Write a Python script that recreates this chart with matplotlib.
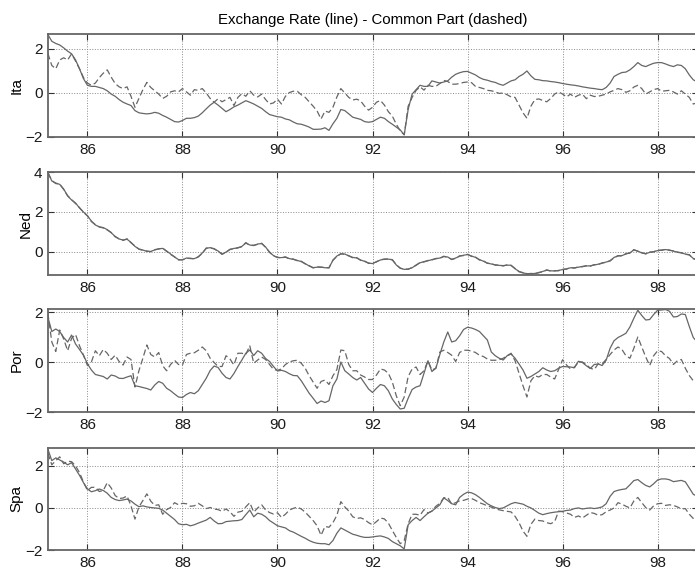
import numpy as np
import matplotlib
matplotlib.use("Agg")
import matplotlib.pyplot as plt

# monthly observations, Mar 1985 .. Nov 1998 (one row per year)
months = np.arange(165)
years = 85 + (months + 2) / 12.0

ita_rate = [
    2.66, 2.35, 2.25, 2.18, 2.05, 1.9, 1.78, 1.5, 1.1, 0.65,
    0.35, 0.3, 0.3, 0.25, 0.2, 0.1, -0.05, -0.15, -0.3, -0.42, -0.5, -0.57,
    -0.8, -0.9, -0.93, -0.95, -0.93, -0.88, -0.92, -1.02, -1.1, -1.2, -1.3, -1.32,
    -1.25, -1.15, -1.15, -1.12, -1.05, -0.9, -0.72, -0.55, -0.42, -0.55, -0.7, -0.85,
    -0.75, -0.63, -0.55, -0.45, -0.35, -0.42, -0.5, -0.6, -0.7, -0.85, -0.98, -1.03,
    -1.08, -1.1, -1.18, -1.22, -1.32, -1.4, -1.42, -1.48, -1.55, -1.65, -1.65, -1.64,
    -1.58, -1.7, -1.4, -1.15, -0.75, -0.8, -0.95, -1.1, -1.15, -1.2, -1.3, -1.33,
    -1.3, -1.2, -1.1, -1.15, -1.3, -1.42, -1.55, -1.68, -1.9, -0.75, -0.05, 0.15,
    0.35, 0.3, 0.3, 0.55, 0.5, 0.45, 0.5, 0.55, 0.72, 0.85, 0.92, 0.97,
    0.98, 0.9, 0.82, 0.7, 0.62, 0.58, 0.52, 0.48, 0.4, 0.35, 0.45, 0.55,
    0.6, 0.75, 0.85, 1.0, 0.78, 0.62, 0.6, 0.56, 0.55, 0.52, 0.5, 0.47,
    0.43, 0.4, 0.37, 0.35, 0.32, 0.28, 0.25, 0.22, 0.2, 0.17, 0.15, 0.25,
    0.45, 0.75, 0.85, 0.93, 0.95, 1.05, 1.2, 1.38, 1.25, 1.2, 1.28, 1.35,
    1.38, 1.38, 1.32, 1.25, 1.2, 1.28, 1.25, 1.1, 0.82, 0.6, 0.5,
]
ita_common = [
    1.8, 1.25, 1.1, 1.5, 1.6, 1.5, 1.78, 1.45, 1.1, 0.7,
    0.45, 0.35, 0.45, 0.7, 0.9, 1.05, 0.72, 0.43, 0.28, 0.2, 0.28, -0.15,
    -0.65, -0.25, 0.15, 0.48, 0.25, 0.1, -0.05, -0.25, -0.15, 0.05, 0.1, 0.05,
    0.2, 0.05, -0.1, 0.15, 0.12, 0.2, 0.0, -0.25, -0.42, -0.26, -0.4, -0.3,
    -0.2, -0.57, -0.2, -0.03, -0.15, 0.1, -0.1, -0.18, -0.05, -0.3, -0.5, -0.45,
    -0.28, -0.5, -0.15, 0.02, 0.08, 0.08, -0.08, -0.2, -0.4, -0.6, -0.82, -1.18,
    -0.82, -0.88, -0.65, -0.18, 0.2, 0.0, -0.2, -0.32, -0.28, -0.36, -0.6, -0.78,
    -0.65, -0.42, -0.34, -0.55, -0.85, -1.05, -1.42, -1.72, -1.9, -0.6, -0.2, 0.12,
    0.28, 0.13, 0.35, 0.3, 0.3, 0.43, 0.57, 0.52, 0.4, 0.4, 0.43, 0.48,
    0.5, 0.47, 0.3, 0.25, 0.2, 0.12, 0.1, 0.05, -0.02, 0.0, -0.08, -0.18,
    -0.2, -0.55, -0.9, -1.15, -0.6, -0.3, -0.27, -0.34, -0.4, -0.25, -0.05, 0.05,
    -0.05, -0.18, -0.05, -0.2, -0.1, -0.05, -0.26, -0.1, -0.16, -0.15, -0.1, -0.05,
    0.05, 0.12, 0.2, 0.15, 0.03, 0.1, 0.27, 0.35, 0.2, -0.05, 0.05, 0.15,
    0.2, 0.08, 0.1, 0.12, 0.05, -0.05, 0.1, -0.05, -0.2, -0.5, -0.45,
]

ned_rate = [
    4.0, 3.55, 3.45, 3.38, 3.15, 2.8, 2.6, 2.45, 2.2, 2.0,
    1.8, 1.55, 1.35, 1.26, 1.22, 1.12, 0.96, 0.78, 0.65, 0.6, 0.64, 0.48,
    0.28, 0.15, 0.1, 0.03, 0.03, 0.1, 0.16, 0.18, 0.05, -0.1, -0.25, -0.38,
    -0.4, -0.3, -0.33, -0.33, -0.25, -0.05, 0.18, 0.22, 0.15, 0.05, -0.12, 0.0,
    0.12, 0.18, 0.2, 0.28, 0.45, 0.35, 0.32, 0.4, 0.42, 0.25, -0.02, -0.18,
    -0.28, -0.28, -0.26, -0.33, -0.37, -0.42, -0.48, -0.58, -0.7, -0.78, -0.76, -0.75,
    -0.79, -0.78, -0.42, -0.2, -0.1, -0.1, -0.2, -0.27, -0.3, -0.4, -0.47, -0.55,
    -0.58, -0.48, -0.4, -0.35, -0.36, -0.38, -0.65, -0.8, -0.87, -0.85, -0.79, -0.65,
    -0.54, -0.48, -0.44, -0.38, -0.34, -0.3, -0.23, -0.25, -0.38, -0.3, -0.21, -0.16,
    -0.13, -0.2, -0.27, -0.38, -0.46, -0.55, -0.6, -0.64, -0.67, -0.68, -0.66, -0.66,
    -0.84, -0.97, -1.05, -1.08, -1.09, -1.07, -1.04, -0.97, -0.91, -0.94, -0.95, -0.92,
    -0.88, -0.84, -0.79, -0.79, -0.76, -0.72, -0.7, -0.69, -0.65, -0.61, -0.56, -0.5,
    -0.45, -0.27, -0.2, -0.18, -0.1, -0.04, 0.1, 0.05, -0.05, -0.08, -0.02, 0.02,
    0.07, 0.1, 0.12, 0.1, 0.04, 0.0, -0.05, -0.1, -0.15, -0.32, -0.4,
]
ned_common = [
    3.95, 3.58, 3.42, 3.4, 3.12, 2.82, 2.62, 2.42, 2.22, 1.98,
    1.82, 1.52, 1.37, 1.25, 1.2, 1.1, 0.98, 0.76, 0.66, 0.58, 0.66, 0.46,
    0.3, 0.14, 0.08, 0.05, 0.01, 0.12, 0.15, 0.2, 0.03, -0.12, -0.24, -0.4,
    -0.38, -0.32, -0.31, -0.35, -0.23, -0.07, 0.2, 0.2, 0.17, 0.03, -0.1, -0.02,
    0.14, 0.16, 0.22, 0.26, 0.47, 0.33, 0.34, 0.38, 0.44, 0.23, 0.0, -0.2,
    -0.26, -0.3, -0.24, -0.35, -0.35, -0.44, -0.46, -0.6, -0.68, -0.8, -0.74, -0.77,
    -0.77, -0.8, -0.4, -0.22, -0.08, -0.12, -0.18, -0.29, -0.28, -0.42, -0.45, -0.57,
    -0.56, -0.5, -0.38, -0.37, -0.34, -0.4, -0.63, -0.82, -0.85, -0.87, -0.77, -0.67,
    -0.52, -0.5, -0.42, -0.4, -0.32, -0.32, -0.21, -0.27, -0.36, -0.32, -0.19, -0.18,
    -0.11, -0.22, -0.25, -0.4, -0.44, -0.57, -0.58, -0.66, -0.65, -0.7, -0.64, -0.68,
    -0.82, -0.99, -1.03, -1.1, -1.07, -1.09, -1.02, -0.99, -0.89, -0.96, -0.93, -0.94,
    -0.86, -0.86, -0.77, -0.81, -0.74, -0.74, -0.68, -0.71, -0.63, -0.63, -0.54, -0.52,
    -0.43, -0.29, -0.18, -0.2, -0.08, -0.06, 0.12, 0.03, -0.03, -0.1, 0.0, 0.0,
    0.09, 0.08, 0.14, 0.08, 0.06, -0.02, -0.03, -0.12, -0.13, -0.34, -0.38,
]

por_rate = [
    1.8, 1.22, 1.32, 1.22, 0.98, 0.8, 1.08, 0.72, 0.5, 0.27,
    -0.07, -0.32, -0.5, -0.54, -0.58, -0.68, -0.52, -0.56, -0.65, -0.66, -0.6, -0.55,
    -0.95, -0.98, -1.02, -1.06, -1.12, -0.92, -0.78, -0.85, -1.05, -1.15, -1.28, -1.4,
    -1.42, -1.3, -1.22, -1.27, -1.15, -0.9, -0.65, -0.34, -0.16, -0.22, -0.45, -0.62,
    -0.68, -0.46, -0.18, 0.08, 0.35, 0.48, 0.26, 0.45, 0.35, 0.14, 0.02, -0.18,
    -0.36, -0.33, -0.38, -0.47, -0.54, -0.55, -0.75, -1.0, -1.25, -1.45, -1.66, -1.56,
    -1.62, -1.55, -0.95, -0.68, 0.0, -0.35, -0.48, -0.62, -0.72, -0.62, -0.85, -1.08,
    -1.22, -1.05, -0.9, -0.95, -1.15, -1.48, -1.7, -1.88, -1.85, -1.45, -1.1, -1.0,
    -0.95, -0.45, 0.05, -0.38, -0.25, 0.3, 0.8, 1.2, 0.8, 0.85, 1.05, 1.3,
    1.39, 1.36, 1.3, 1.22, 1.05, 0.88, 0.4, 0.25, 0.15, 0.08, 0.25, 0.32,
    0.15, -0.08, -0.32, -0.65, -0.58, -0.48, -0.38, -0.23, -0.32, -0.38, -0.35, -0.25,
    -0.18, -0.19, -0.2, -0.23, 0.03, -0.02, -0.15, -0.26, -0.1, -0.08, -0.14, 0.07,
    0.55, 0.85, 0.98, 1.06, 1.15, 1.4, 1.75, 2.07, 1.86, 1.68, 1.7, 1.9,
    2.07, 2.08, 2.1, 2.03, 1.8, 1.82, 1.92, 1.9, 1.42, 0.98, 0.8,
]
por_common = [
    1.96, 0.8, 0.42, 1.28, 0.92, 0.45, 0.95, 1.1, 0.65, 0.27,
    -0.14, 0.0, 0.45, 0.25, 0.5, 0.35, 0.1, 0.27, 0.02, -0.12, 0.2, 0.1,
    -1.0, -0.35, 0.15, 0.68, 0.3, 0.2, 0.38, -0.15, -0.35, -0.1, 0.07, -0.1,
    -0.12, 0.3, 0.35, 0.37, 0.47, 0.6, 0.45, 0.15, -0.02, -0.18, -0.18, 0.25,
    0.12, -0.12, 0.35, 0.35, 0.3, 0.65, -0.05, 0.08, 0.2, 0.1, -0.1, -0.3,
    -0.33, -0.28, -0.1, 0.0, 0.05, 0.07, -0.05, -0.25, -0.55, -0.8, -1.05, -0.78,
    -0.72, -0.9, -0.55, -0.3, 0.48, 0.45, -0.1, -0.35, -0.35, -0.52, -0.6, -0.7,
    -0.7, -0.52, -0.28, -0.32, -0.45, -0.8, -1.35, -1.75, -1.4, -0.58, -0.28, -0.2,
    -0.5, -0.35, 0.05, -0.32, -0.25, 0.4, 0.47, 0.38, 0.27, 0.02, 0.38, 0.47,
    0.47, 0.44, 0.38, 0.27, 0.22, 0.12, 0.07, 0.07, 0.09, 0.15, 0.25, 0.35,
    0.05, -0.45, -0.95, -1.4, -0.75, -0.55, -0.6, -0.5, -0.5, -0.6, -0.68, -0.3,
    0.09, -0.12, -0.28, -0.2, 0.0, 0.0, -0.1, -0.25, -0.3, -0.07, -0.07, 0.1,
    0.3, 0.48, 0.6, 0.5, 0.25, 0.15, 0.55, 1.0, 0.6, 0.2, -0.14, 0.25,
    0.45, 0.42, 0.25, 0.14, -0.1, 0.05, 0.1, -0.25, -0.54, -0.75, -0.85,
]

spa_rate = [
    2.8, 2.25, 2.38, 2.28, 2.18, 2.05, 2.15, 1.85, 1.55, 1.2,
    0.9, 0.77, 0.82, 0.9, 0.83, 0.7, 0.5, 0.4, 0.35, 0.38, 0.42, 0.33,
    0.18, 0.06, 0.1, 0.05, 0.02, 0.0, -0.02, -0.1, -0.25, -0.4, -0.55, -0.75,
    -0.8, -0.78, -0.85, -0.8, -0.72, -0.65, -0.58, -0.45, -0.62, -0.75, -0.74, -0.65,
    -0.63, -0.61, -0.6, -0.55, -0.32, -0.1, -0.42, -0.25, -0.3, -0.42, -0.6, -0.72,
    -0.85, -0.9, -0.95, -1.08, -1.15, -1.25, -1.35, -1.44, -1.55, -1.63, -1.68, -1.7,
    -1.7, -1.75, -1.55, -1.2, -0.95, -1.05, -1.15, -1.25, -1.3, -1.36, -1.4, -1.4,
    -1.38, -1.35, -1.33, -1.38, -1.45, -1.6, -1.7, -1.8, -1.95, -0.8, -0.6, -0.45,
    -0.6, -0.42, -0.25, -0.15, 0.0, 0.15, 0.48, 0.35, 0.2, 0.15, 0.5, 0.65,
    0.75, 0.72, 0.63, 0.5, 0.35, 0.2, 0.1, 0.02, -0.03, 0.0, 0.1, 0.2,
    0.26, 0.22, 0.18, 0.08, 0.0, -0.12, -0.25, -0.32, -0.27, -0.23, -0.2, -0.18,
    -0.16, -0.12, -0.1, -0.03, 0.0, -0.05, -0.02, 0.0, -0.03, 0.0, 0.05, 0.2,
    0.55, 0.78, 0.84, 0.88, 0.91, 1.1, 1.3, 1.35, 1.2, 1.07, 1.0, 1.15,
    1.33, 1.38, 1.38, 1.34, 1.25, 1.28, 1.31, 1.24, 0.95, 0.65, 0.55,
]
spa_common = [
    2.6, 2.05, 2.25, 2.43, 2.1, 2.22, 2.2, 2.0, 1.68, 1.23,
    0.83, 0.98, 0.98, 0.78, 0.83, 1.2, 0.95, 0.59, 0.45, 0.47, 0.57, 0.1,
    -0.53, 0.05, 0.35, 0.67, 0.32, 0.12, 0.15, -0.3, -0.08, 0.02, 0.25, 0.15,
    0.22, 0.2, 0.08, 0.1, 0.22, 0.1, -0.03, 0.02, -0.05, -0.08, -0.16, -0.05,
    -0.18, -0.4, -0.2, -0.16, 0.05, 0.25, -0.2, 0.0, 0.15, -0.1, -0.22, -0.29,
    -0.23, -0.45, -0.3, -0.1, -0.02, 0.04, -0.05, -0.2, -0.4, -0.6, -0.85, -1.3,
    -0.88, -0.92, -0.7, -0.35, 0.3, 0.05, -0.15, -0.42, -0.5, -0.47, -0.55, -0.7,
    -0.8, -0.65, -0.48, -0.52, -0.72, -1.07, -1.4, -1.7, -1.55, -0.75, -0.3, -0.3,
    -0.35, -0.08, -0.24, -0.15, 0.08, 0.22, 0.48, 0.5, 0.18, 0.25, 0.34, 0.36,
    0.42, 0.45, 0.36, 0.25, 0.18, 0.1, 0.04, -0.04, -0.09, -0.13, -0.16, -0.19,
    -0.4, -0.7, -1.1, -1.35, -0.78, -0.53, -0.6, -0.62, -0.7, -0.75, -0.65, -0.15,
    -0.18, -0.24, -0.3, -0.45, -0.38, -0.48, -0.35, -0.22, -0.26, -0.35, -0.32, -0.18,
    -0.1, 0.0, 0.25, 0.18, 0.08, 0.0, 0.33, 0.5, 0.25, 0.02, -0.1, 0.1,
    0.2, 0.22, 0.12, 0.15, 0.12, 0.05, -0.05, -0.03, -0.3, -0.5, -0.45,
]

countries = ["Ita", "Ned", "Por", "Spa"]
rates = [ita_rate, ned_rate, por_rate, spa_rate]
commons = [ita_common, ned_common, por_common, spa_common]
ylims = [(-2, 2.68), (-1.15, 4.0), (-2, 2.12), (-2, 2.85)]
yticks = [[-2, 0, 2], [0, 2, 4], [-2, 0, 2], [-2, 0, 2]]
xticks = [86, 88, 90, 92, 94, 96, 98]

plt.rcParams["font.family"] = ["Liberation Sans", "DejaVu Sans"]

fig = plt.figure(figsize=(6.95, 5.74), dpi=100)

# axes boxes in pixels: (top, bottom)
boxes = [(34, 137), (172, 275), (309, 412), (448, 550)]
left_px, right_px = 48, 698
line_col = "#666666"

for i in range(4):
    top, bot = boxes[i]
    ax = fig.add_axes([left_px / 695, (574 - bot) / 574,
                       (right_px - left_px) / 695, (bot - top) / 574])
    ax.plot(years, rates[i], color=line_col, lw=0.9)
    ax.plot(years, commons[i], color=line_col, lw=0.9, linestyle=(0, (5, 2.5)))
    ax.set_xlim(85.17, 98.85)
    ax.set_ylim(*ylims[i])
    ax.set_xticks(xticks)
    ax.set_yticks(yticks[i])
    ax.grid(True, linestyle=":", color="#8a8a8a", lw=0.7)
    ax.tick_params(direction="in", length=4, width=0.8, color="#333333",
                   top=True, right=True, labelsize=11, pad=4,
                   labelcolor="#1a1a1a")
    for s in ax.spines.values():
        s.set_color("#666666")
        s.set_linewidth(1.3)
    ax.set_ylabel(countries[i], fontsize=11, labelpad=1)
    if i == 0:
        ax.set_title("Exchange Rate (line) - Common Part (dashed)", fontsize=10.8, pad=7)

fig.savefig("out.png", dpi=100)
